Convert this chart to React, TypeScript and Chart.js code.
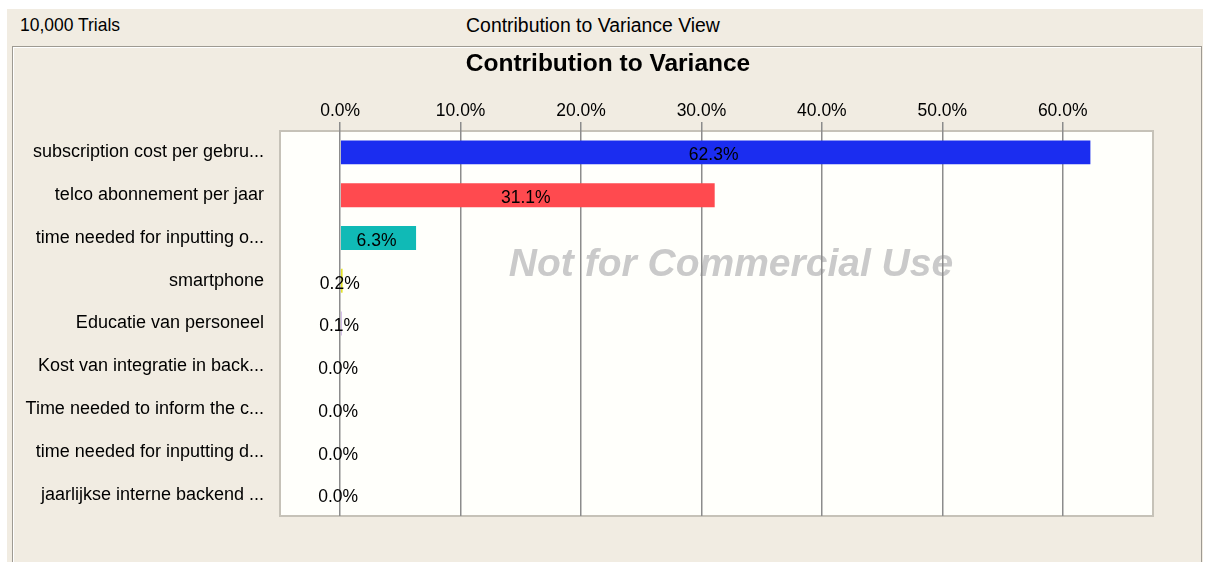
import React, { useEffect, useRef } from "react";
import { Chart, registerables } from "chart.js";

Chart.register(...registerables);

const categories = [
  "subscription cost per gebru...",
  "telco abonnement per jaar",
  "time needed for inputting o...",
  "smartphone",
  "Educatie van personeel",
  "Kost van integratie in back...",
  "Time needed to inform the c...",
  "time needed for inputting d...",
  "jaarlijkse interne backend ...",
];
const values = [62.3, 31.1, 6.3, 0.2, 0.1, 0.0, 0.0, 0.0, 0.0];
const barColors = [
  "#1b2df0",
  "#ff4a4f",
  "#10bab6",
  "#e4e42a",
  "#9966cc",
  "#66cc66",
  "#ff9933",
  "#cc66cc",
  "#999999",
];
const xTicks = [0, 10, 20, 30, 40, 50, 60];
const xMin = -5;
const xMax = 67.5;
const headerLeft = "10,000 Trials";
const headerCenter = "Contribution to Variance View";
const chartTitle = "Contribution to Variance";
const watermarkText = "Not for Commercial Use";

const FONT = "'Liberation Sans', Arial, sans-serif";
const BEIGE = "#f1ece2";

export default function App() {
  const ref = useRef<HTMLCanvasElement | null>(null);

  useEffect(() => {
    if (!ref.current) return;

    const bgPlugin = {
      id: "plotBg",
      beforeDraw(chart: any) {
        const { ctx, chartArea: a } = chart;
        ctx.save();
        ctx.fillStyle = "#fffffb";
        ctx.fillRect(a.left, a.top, a.right - a.left, a.bottom - a.top);
        ctx.strokeStyle = "#c6c2b8";
        ctx.lineWidth = 2;
        ctx.strokeRect(a.left, a.top, a.right - a.left, a.bottom - a.top);
        ctx.font = `italic bold 39px ${FONT}`;
        ctx.fillStyle = "#cacaca";
        ctx.textAlign = "center";
        ctx.textBaseline = "middle";
        ctx.fillText(watermarkText, 719, 219);
        // chart title
        ctx.font = `bold 24.5px ${FONT}`;
        ctx.fillStyle = "#000";
        ctx.fillText(chartTitle, 596, 18);
        ctx.restore();
      },
    };

    const labelPlugin = {
      id: "valueLabels",
      afterDatasetsDraw(chart: any) {
        const { ctx } = chart;
        const meta = chart.getDatasetMeta(0);
        ctx.save();
        ctx.font = `17.5px ${FONT}`;
        ctx.fillStyle = "#000";
        ctx.textAlign = "center";
        ctx.textBaseline = "middle";
        meta.data.forEach((el: any, i: number) => {
          const x = (el.x + el.base) / 2;
          ctx.fillText(values[i].toFixed(1) + "%", x - 2, el.y + 3);
        });
        ctx.restore();
      },
    };

    const chart = new Chart(ref.current, {
      type: "bar",
      data: {
        labels: categories,
        datasets: [
          {
            data: values,
            backgroundColor: barColors,
            borderWidth: 0,
            barPercentage: 0.56,
            categoryPercentage: 1,
          },
        ],
      },
      options: {
        indexAxis: "y",
        animation: false,
        responsive: false,
        layout: { padding: { left: 0, right: 49, top: 0, bottom: 46 } },
        plugins: {
          legend: { display: false },
          tooltip: { enabled: false },
          title: { display: false },
        },
        scales: {
          x: {
            position: "top",
            min: xMin,
            max: xMax,
            afterBuildTicks: (s: any) => {
              s.ticks = xTicks.map((v) => ({ value: v }));
            },
            afterFit: (s: any) => {
              s.height = 85;
            },
            border: { display: false },
            grid: {
              color: "#8c8c8c",
              lineWidth: 1.5,
              tickLength: 9,
              drawTicks: true,
            },
            ticks: {
              callback: (v: any) => Number(v).toFixed(1) + "%",
              color: "#000",
              font: { family: FONT, size: 17.5 },
              padding: 0,
              maxRotation: 0,
              autoSkip: false,
            },
          },
          y: {
            afterFit: (s: any) => {
              s.width = 268;
            },
            border: { display: false },
            grid: { display: false },
            ticks: {
              color: "#000",
              font: { family: FONT, size: 18 },
              padding: 8,
              autoSkip: false,
            },
          },
        },
      },
      plugins: [bgPlugin, labelPlugin],
    } as any);
    return () => chart.destroy();
  }, []);

  return (
    <div
      style={{
        position: "absolute",
        left: 0,
        top: 0,
        width: 1205,
        height: 562,
        background: "#fff",
        overflow: "hidden",
        fontFamily: FONT,
      }}
    >
      <div
        style={{
          position: "absolute",
          left: 7,
          top: 9,
          width: 1196,
          height: 553,
          background: BEIGE,
        }}
      />
      <div
        style={{
          position: "absolute",
          left: 12,
          top: 46,
          width: 1188,
          height: 530,
          border: "1px solid #9e9a92",
          boxShadow: "inset 1px 1px 0 #ffffff",
        }}
      />
      <div
        style={{
          position: "absolute",
          left: 20,
          top: 13,
          fontSize: 19,
          lineHeight: "24px",
          color: "#000",
          whiteSpace: "nowrap",
          transform: "scaleX(0.92)",
          transformOrigin: "left center",
        }}
      >
        {headerLeft}
      </div>
      <div
        style={{
          position: "absolute",
          left: 393,
          width: 400,
          top: 13,
          fontSize: 20,
          lineHeight: "24px",
          color: "#000",
          textAlign: "center",
          whiteSpace: "nowrap",
          transform: "scaleX(0.97)",
        }}
      >
        {headerCenter}
      </div>
      <canvas
        ref={ref}
        width={1190}
        height={516}
        style={{ position: "absolute", left: 12, top: 46, width: 1190, height: 516 }}
      />
    </div>
  );
}
